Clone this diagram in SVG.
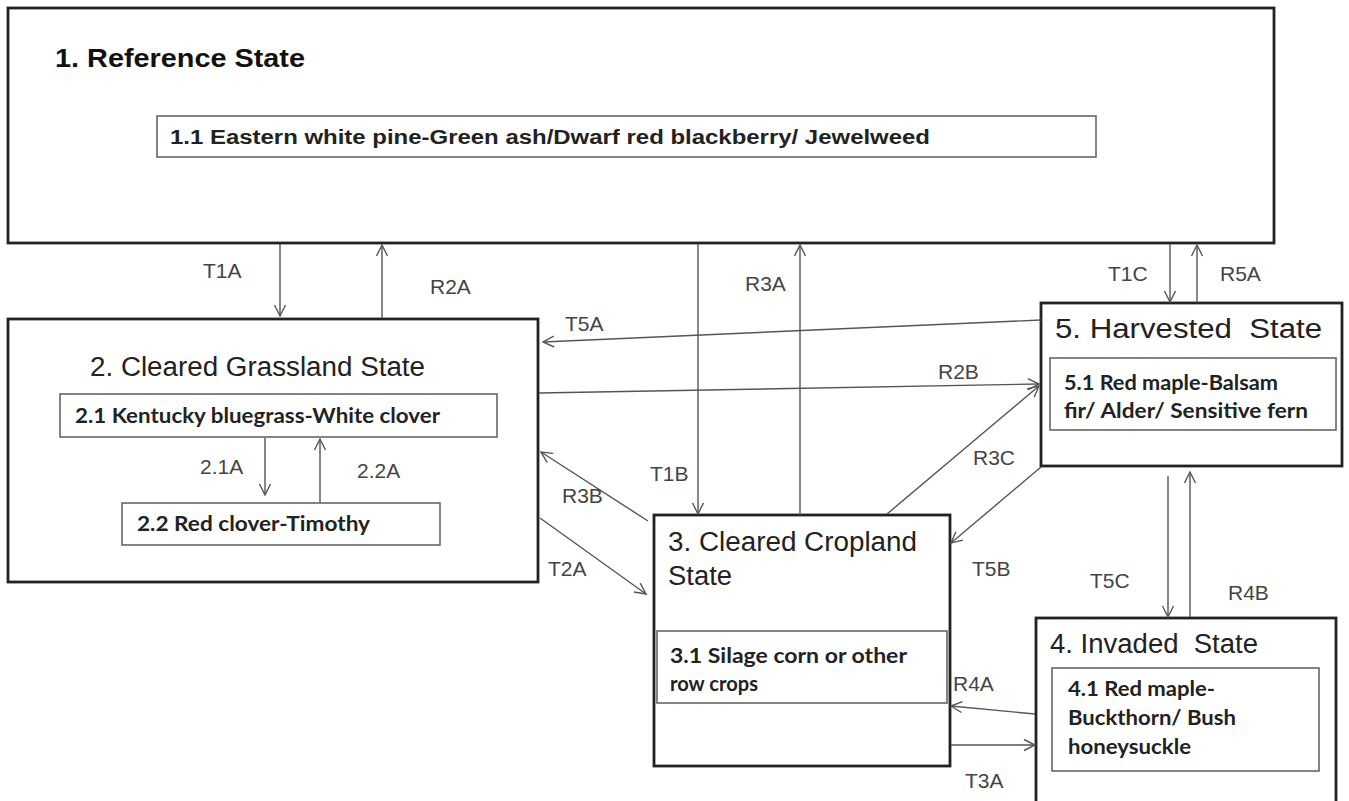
<svg xmlns="http://www.w3.org/2000/svg" width="1349" height="801" viewBox="0 0 1349 801">
<style>
.state{fill:#fff;stroke:#222;stroke-width:2.8}
.phase{fill:#fff;stroke:#666;stroke-width:1.6}
.title{font-family:"Liberation Sans",Arial,sans-serif;font-size:27px;fill:#222}
.ref{font-family:"Liberation Sans",Arial,sans-serif;font-size:26px;font-weight:bold;fill:#111}
.p11{font-family:"Liberation Sans",Arial,sans-serif;font-size:20px;font-weight:bold;fill:#222}
.ptxt{font-family:Lato,"Open Sans",sans-serif;font-size:21px;font-weight:bold;fill:#222}
.lbl{font-family:"Liberation Sans",Arial,sans-serif;font-size:21px;fill:#444}
.conn{fill:none;stroke:#555;stroke-width:1.4}
</style>
<defs>
<marker id="ah" markerWidth="14" markerHeight="14" refX="12" refY="7" orient="auto" markerUnits="userSpaceOnUse">
<path d="M1,1.5 L12,7 L1,12.5" fill="none" stroke="#555" stroke-width="1.4"/>
</marker>
</defs>
<rect width="1349" height="801" fill="#fff"/>

<g id="state1">
<rect class="state" x="8" y="8" width="1266" height="235"/>
<text class="ref" x="55" y="67" textLength="250" lengthAdjust="spacingAndGlyphs">1. Reference State</text>
<rect class="phase" x="157" y="116" width="939" height="41"/>
<text class="p11" x="170" y="144" textLength="760" lengthAdjust="spacingAndGlyphs">1.1 Eastern white pine-Green ash/Dwarf red blackberry/ Jewelweed</text>
</g>

<g id="state2">
<rect class="state" x="8" y="319" width="530" height="263"/>
<text class="title" x="90" y="376" textLength="335" lengthAdjust="spacingAndGlyphs">2. Cleared Grassland State</text>
<rect class="phase" x="60" y="394" width="437" height="43"/>
<text class="ptxt" x="75" y="423" textLength="365" lengthAdjust="spacingAndGlyphs">2.1 Kentucky bluegrass-White clover</text>
<rect class="phase" x="122" y="503" width="318" height="42"/>
<text class="ptxt" x="137" y="531" textLength="233" lengthAdjust="spacingAndGlyphs">2.2 Red clover-Timothy</text>
</g>

<g id="state3">
<rect class="state" x="654" y="515" width="296" height="251"/>
<text class="title" x="668" y="551" textLength="249" lengthAdjust="spacingAndGlyphs">3. Cleared Cropland</text>
<text class="title" x="668" y="585" textLength="64" lengthAdjust="spacingAndGlyphs">State</text>
<rect class="phase" x="657" y="631" width="290" height="72"/>
<text class="ptxt" x="670" y="663" textLength="237" lengthAdjust="spacingAndGlyphs">3.1 Silage corn or other</text>
<text class="ptxt" x="670" y="691" textLength="88" lengthAdjust="spacingAndGlyphs">row crops</text>
</g>

<g id="state5">
<rect class="state" x="1041" y="303" width="301" height="163"/>
<text class="title" x="1055" y="338" textLength="267" lengthAdjust="spacingAndGlyphs" xml:space="preserve">5. Harvested  State</text>
<rect class="phase" x="1050" y="358" width="286" height="72"/>
<text class="ptxt" x="1064" y="390" textLength="214" lengthAdjust="spacingAndGlyphs">5.1 Red maple-Balsam</text>
<text class="ptxt" x="1064" y="418" textLength="244" lengthAdjust="spacingAndGlyphs">fir/ Alder/ Sensitive fern</text>
</g>

<g id="state4">
<rect class="state" x="1036" y="618" width="300" height="190"/>
<text class="title" x="1050" y="653" textLength="208" lengthAdjust="spacingAndGlyphs" xml:space="preserve">4. Invaded  State</text>
<rect class="phase" x="1052" y="668" width="267" height="103"/>
<text class="ptxt" x="1068" y="696" textLength="147" lengthAdjust="spacingAndGlyphs">4.1 Red maple-</text>
<text class="ptxt" x="1068" y="725" textLength="168" lengthAdjust="spacingAndGlyphs">Buckthorn/ Bush</text>
<text class="ptxt" x="1068" y="754" textLength="123" lengthAdjust="spacingAndGlyphs">honeysuckle</text>
</g>

<g id="connectors">
<path class="conn" marker-end="url(#ah)" d="M280,244 L280,316"/>
<path class="conn" marker-end="url(#ah)" d="M382,318 L382,245"/>
<path class="conn" marker-end="url(#ah)" d="M698,244 L698,514"/>
<path class="conn" marker-end="url(#ah)" d="M800,515 L800,245"/>
<path class="conn" marker-end="url(#ah)" d="M1170,244 L1170,302"/>
<path class="conn" marker-end="url(#ah)" d="M1197,303 L1197,245"/>
<path class="conn" marker-end="url(#ah)" d="M1041,320 L543,342"/>
<path class="conn" marker-end="url(#ah)" d="M539,393 L1039,384"/>
<path class="conn" marker-end="url(#ah)" d="M887,514 L1039,386"/>
<path class="conn" marker-end="url(#ah)" d="M1041,467 L951,543"/>
<path class="conn" marker-end="url(#ah)" d="M648,521 L541,452"/>
<path class="conn" marker-end="url(#ah)" d="M540,518 L646,594"/>
<path class="conn" marker-end="url(#ah)" d="M1168,476 L1168,617"/>
<path class="conn" marker-end="url(#ah)" d="M1190,617 L1190,472"/>
<path class="conn" marker-end="url(#ah)" d="M1035,714 L951,706"/>
<path class="conn" marker-end="url(#ah)" d="M951,745 L1035,745"/>
<path class="conn" marker-end="url(#ah)" d="M265,438 L265,495"/>
<path class="conn" marker-end="url(#ah)" d="M320,502 L320,439"/>
<text class="lbl" x="203" y="278">T1A</text>
<text class="lbl" x="430" y="294">R2A</text>
<text class="lbl" x="565" y="331">T5A</text>
<text class="lbl" x="745" y="291">R3A</text>
<text class="lbl" x="650" y="481">T1B</text>
<text class="lbl" x="1108" y="281">T1C</text>
<text class="lbl" x="1220" y="281">R5A</text>
<text class="lbl" x="938" y="379">R2B</text>
<text class="lbl" x="973" y="465">R3C</text>
<text class="lbl" x="972" y="576">T5B</text>
<text class="lbl" x="562" y="503">R3B</text>
<text class="lbl" x="548" y="576">T2A</text>
<text class="lbl" x="1090" y="588">T5C</text>
<text class="lbl" x="1228" y="600">R4B</text>
<text class="lbl" x="953" y="691">R4A</text>
<text class="lbl" x="965" y="788">T3A</text>
<text class="lbl" x="200" y="474">2.1A</text>
<text class="lbl" x="357" y="478">2.2A</text>
</g>
</svg>
